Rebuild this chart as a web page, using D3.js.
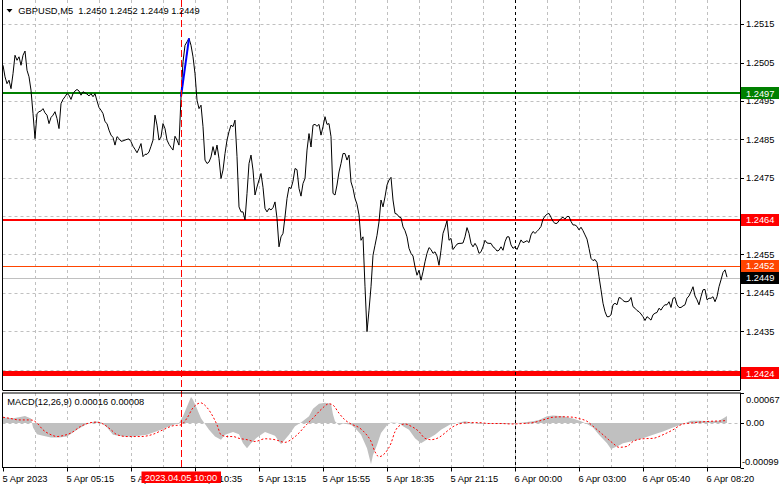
<!DOCTYPE html>
<html><head><meta charset="utf-8">
<script src="https://cdn.jsdelivr.net/npm/d3@7"></script>
<style>
body{margin:0;background:#fff}
svg{display:block}
text{font-family:"Liberation Sans",Arial,sans-serif;font-size:9.3px}
</style>
</head><body>
<script>
// ---- DATA ----
const symbol = "GBPUSD,M5";
const ohlc = [1.2450, 1.2452, 1.2449, 1.2449];
// 5-minute closes, one per bar, starting 5 Apr 2023 02:35
const closes = [
1.25043,1.25013,1.24995,1.25004,1.24982,1.25021,1.25069,1.25056,1.25065,1.25043,1.25069,1.25080,1.25030,1.25013,1.24978,1.24917,1.24852,
1.24917,1.24922,1.24924,1.24930,1.24919,1.24913,1.24891,1.24907,1.24913,1.24922,1.24904,1.24878,
1.24943,1.24954,1.24961,1.24969,1.24965,1.24954,1.24969,1.24976,1.24980,1.24976,1.24965,1.24974,
1.24971,1.24968,1.24963,1.24969,1.24961,1.24969,1.24950,1.24933,1.24926,1.24917,1.24896,1.24891,
1.24874,1.24861,1.24855,1.24835,1.24857,1.24852,1.24845,1.24846,1.24848,1.24850,1.24851,1.24844,
1.24832,1.24824,1.24815,1.24826,1.24839,1.24805,1.24811,1.24811,1.24817,1.24832,1.24848,1.24913,
1.24887,1.24848,1.24856,1.24891,1.24878,1.24848,1.24837,1.24829,1.24822,1.24858,1.24848,1.24835,
1.24961,1.25052,1.25095,1.25104,1.25113,1.25095,1.25065,1.25021,1.24952,1.24930,1.24939,1.24883,
1.24796,1.24787,1.24791,1.24804,1.24831,1.24809,1.24835,1.24800,1.24748,1.24770,1.24813,1.24848,
1.24870,1.24887,1.24883,1.24900,1.24805,1.24674,1.24661,1.24661,1.24640,1.24709,1.24787,1.24809,
1.24770,1.24705,1.24726,1.24744,
1.24761,1.24725,1.24670,1.24661,1.24670,1.24666,1.24672,1.24687,1.24644,1.24570,1.24596,1.24605,
1.24648,1.24696,1.24725,1.24722,1.24741,1.24774,1.24771,1.24722,1.24702,1.24735,1.24748,1.24822,
1.24865,1.24830,1.24887,1.24889,1.24884,1.24889,1.24861,1.24883,1.24909,1.24889,1.24891,1.24857,
1.24709,1.24705,1.24731,1.24765,1.24787,1.24813,1.24813,1.24796,1.24809,1.24739,1.24722,1.24696,
1.24681,1.24653,1.24587,1.24596,1.24466,1.24349,1.24405,1.24466,1.24548,1.24574,1.24600,1.24635,
1.24692,1.24674,1.24700,1.24731,1.24744,1.24751,1.24692,1.24657,1.24655,1.24648,1.24646,1.24622,
1.24612,1.24596,1.24566,1.24553,1.24546,1.24518,1.24496,1.24509,1.24483,1.24505,1.24531,1.24553,
1.24568,1.24563,1.24553,1.24557,1.24546,1.24522,1.24561,1.24605,1.24620,1.24638,1.24587,1.24592,
1.24563,1.24570,1.24577,1.24579,1.24579,1.24580,1.24596,1.24620,1.24605,1.24579,1.24570,1.24579,
1.24570,1.24553,1.24557,1.24570,1.24587,1.24580,1.24579,1.24579,1.24570,1.24566,1.24559,1.24561,
1.24570,1.24561,1.24583,1.24596,1.24596,
1.24575,1.24566,1.24570,1.24563,1.24575,1.24588,1.24581,1.24583,1.24586,1.24581,1.24601,1.24610,
1.24605,1.24610,1.24616,1.24623,1.24642,1.24650,1.24655,1.24657,1.24647,1.24636,1.24631,1.24631,
1.24638,1.24644,1.24647,1.24642,1.24649,1.24649,1.24636,1.24627,1.24627,1.24623,1.24614,1.24621,
1.24612,1.24601,1.24590,1.24566,1.24540,1.24534,1.24537,1.24529,1.24492,1.24458,1.24423,1.24401,
1.24388,1.24388,1.24393,1.24419,1.24423,1.24419,1.24438,1.24436,1.24430,1.24427,1.24427,1.24429,
1.24438,1.24414,1.24410,1.24404,1.24401,1.24395,1.24388,1.24378,1.24388,1.24384,1.24379,1.24393,
1.24397,1.24399,1.24410,1.24405,1.24414,1.24419,1.24419,1.24427,1.24412,1.24436,1.24438,1.24419,
1.24412,1.24412,1.24416,1.24419,1.24436,1.24442,1.24453,1.24466,1.24442,1.24432,1.24419,1.24440,
1.24458,1.24459,1.24432,1.24436,1.24436,1.24440,1.24427,1.24440,1.24466,1.24484,1.24503,1.24510,1.24491
];
// grid levels; labels are shown only where the reference shows them
const priceTicks = [1.2515,1.2505,1.2495,1.2485,1.2475,1.2465,1.2455,1.2445,1.2435,1.2425];
const priceTickLabels = ["1.2515","1.2505","1.2495","1.2485","1.2475","","1.2455","1.2445","1.2435",""];
const timeLabels = ["5 Apr 2023","5 Apr 05:15","5 Apr 07:55","5 Apr 10:35","5 Apr 13:15","5 Apr 15:55",
  "5 Apr 18:35","5 Apr 21:15","6 Apr 00:00","6 Apr 03:00","6 Apr 05:40","6 Apr 08:20"];
const levelValues = [1.2497, 1.2464, 1.2452, 1.2424];
const levelColors = ["#008000", "#ff0000", "#ff4500", "#ff0000"];
const levelWidths = [2, 2, 1, 5];
const bidPrice = 1.2449;
const trendBars = [89, 93];
const trendPrices = [1.24961, 1.25113];
const markerBar = 89, markerText = "2023.04.05 10:00";
const separatorBar = 256;
// MACD(12,26,9) main (histogram) and signal, sampled bars
const macdBars = [0,5,8,11,14,15,17,20,24,28,32,37,42,46,49,52,55,60,65,72,79,84,88,90,92,94,95,97,99,101,103,106,109,111,115,118,120,122,124,127,131,136,139,143,146,149,153,155,158,161,164,165,166,168,170,174,176,179,182,184,185,187,189,192,194,198,200,203,206,209,213,216,219,222,224,228,231,234,239,244,249,254,260,265,268,272,275,280,285,289,292,295,298,302,304,307,310,315,320,325,330,335,340,344,348,354,358,360,362];
const macdMain = [0.00013,0.00011,0.00013,0.00016,0.00010,-0.00010,-0.00025,-0.00028,-0.00032,-0.00032,-0.00030,-0.00015,-0.00002,0.00004,0.00002,-0.00010,-0.00026,-0.00030,-0.00030,-0.00026,-0.00015,-0.00006,0.00000,0.00015,0.00037,0.00058,0.00052,0.00032,0.00011,-0.00002,-0.00015,-0.00030,-0.00037,-0.00026,-0.00020,-0.00025,-0.00045,-0.00056,-0.00045,-0.00032,-0.00020,-0.00028,-0.00047,-0.00026,-0.00007,0.00001,0.00015,0.00032,0.00043,0.00045,0.00043,0.00019,0.00004,-0.00005,-0.00001,-0.00004,-0.00011,-0.00026,-0.00056,-0.00092,-0.00071,-0.00049,-0.00022,-0.00005,0.00001,0.00000,-0.00007,-0.00015,-0.00034,-0.00045,-0.00034,-0.00026,-0.00015,-0.00007,-0.00002,0.00001,0.00004,0.00001,-0.00002,0.00000,-0.00002,-0.00001,0.00001,0.00004,0.00007,0.00015,0.00017,0.00015,0.00010,0.00004,-0.00002,-0.00010,-0.00026,-0.00045,-0.00058,-0.00052,-0.00045,-0.00040,-0.00034,-0.00026,-0.00019,-0.00010,-0.00002,0.00005,0.00005,0.00004,0.00005,0.00010,0.00016];
const signalBars = [0,4,8,14,17,20,24,27,30,34,39,44,47,50,54,57,62,69,75,80,85,89,92,95,99,100,104,107,109,112,115,118,122,126,131,136,141,144,148,151,155,159,163,165,168,171,174,178,181,184,186,188,191,194,196,199,201,204,208,211,214,218,221,224,228,233,238,243,249,254,260,265,270,275,280,285,288,292,295,300,305,308,312,315,320,325,330,335,340,344,348,354,360,362];
const signalVals = [0.00013,0.00010,0.00007,0.00007,0.00000,-0.00015,-0.00026,-0.00030,-0.00028,-0.00022,-0.00007,0.00001,0.00002,-0.00002,-0.00015,-0.00026,-0.00030,-0.00030,-0.00025,-0.00015,-0.00006,-0.00004,0.00011,0.00034,0.00045,0.00043,0.00022,-0.00004,-0.00026,-0.00030,-0.00030,-0.00034,-0.00037,-0.00041,-0.00035,-0.00037,-0.00043,-0.00037,-0.00022,-0.00007,0.00011,0.00030,0.00043,0.00040,0.00022,0.00007,-0.00002,-0.00010,-0.00022,-0.00041,-0.00064,-0.00075,-0.00067,-0.00045,-0.00019,-0.00004,-0.00002,-0.00007,-0.00019,-0.00034,-0.00037,-0.00032,-0.00022,-0.00011,-0.00002,0.00001,0.00001,-0.00001,-0.00001,-0.00002,-0.00001,0.00001,0.00007,0.00013,0.00014,0.00013,0.00010,0.00004,-0.00007,-0.00026,-0.00045,-0.00054,-0.00052,-0.00041,-0.00035,-0.00034,-0.00026,-0.00015,-0.00002,0.00000,0.00002,0.00004,0.00005,0.00006];
const macdLabel = "MACD(12,26,9) 0.00016 0.00008";
const macdAxis = [0.00067, 0.00, -0.00099];
const macdAxisText = ["0.00067", "0.00", "-0.00099"];

// ---- LAYOUT ----
const W = 781, H = 489;
const L = 2.5, R = 740.5, mainTop = 0, mainBot = 390, mTop = 393, mBot = 467.5;
const barsPerGrid = 16, barsPerLabel = 32;

const svg = d3.select("body").append("svg").attr("width", W).attr("height", H);
const x = d3.scaleLinear().domain([0, 368.75]).range([3, R]);
const y = d3.scaleLinear().domain([1.24197, 1.25213]).range([mainBot, mainTop]);
const ym = d3.scaleLinear().domain([-0.00099, 0.00067]).range([mBot, mTop]);

const defs = svg.append("defs");
defs.append("clipPath").attr("id","cm").append("rect").attr("x",L).attr("y",mainTop).attr("width",R-L).attr("height",mainBot-mainTop);
defs.append("clipPath").attr("id","cd").append("rect").attr("x",L).attr("y",mTop).attr("width",R-L).attr("height",mBot-mTop);

const gridC = "#c0c0c0";
// vertical grid
const gridBars = d3.range(barsPerGrid, 360, barsPerGrid);
[[mainTop, mainBot],[mTop, mBot]].forEach(([t,b]) => {
  svg.append("g").selectAll("line").data(gridBars).join("line")
    .attr("x1", d => Math.round(x(d)) + 0.5).attr("x2", d => Math.round(x(d)) + 0.5)
    .attr("y1", t).attr("y2", b)
    .attr("stroke", gridC).attr("stroke-dasharray", "3,3");
});
// horizontal grid (main)
svg.append("g").selectAll("line").data(priceTicks).join("line")
  .attr("x1", L).attr("x2", R)
  .attr("y1", d => Math.round(y(d)) + 0.5).attr("y2", d => Math.round(y(d)) + 0.5)
  .attr("stroke", gridC).attr("stroke-dasharray", "3,3");
// MACD zero level
svg.append("line").attr("x1", L).attr("x2", R)
  .attr("y1", Math.round(ym(0)) + 0.5).attr("y2", Math.round(ym(0)) + 0.5)
  .attr("stroke", gridC).attr("stroke-dasharray", "3,3");

// MACD histogram + signal
const gm = svg.append("g").attr("clip-path", "url(#cd)");
const histData = macdBars.map((b, i) => [b, macdMain[i]]);
gm.append("path").datum(histData)
  .attr("d", d3.area().x(d => x(d[0])).y0(ym(0)).y1(d => ym(d[1])))
  .attr("fill", "#c0c0c0");
const sigData = signalBars.map((b, i) => [b, signalVals[i]]);
gm.append("path").datum(sigData)
  .attr("d", d3.line().x(d => x(d[0])).y(d => ym(d[1])).curve(d3.curveMonotoneX))
  .attr("fill", "none").attr("stroke", "#ff0000").attr("stroke-width", 1)
  .attr("stroke-dasharray", "2,2");

// main panel objects
const gp = svg.append("g").attr("clip-path", "url(#cm)");
// bid line
gp.append("line").attr("x1", L).attr("x2", R)
  .attr("y1", Math.round(y(bidPrice)) + 0.5).attr("y2", Math.round(y(bidPrice)) + 0.5)
  .attr("stroke", "#c0c0c0");
// horizontal levels
levelValues.forEach((v, i) => {
  const yy = levelWidths[i] % 2 ? Math.round(y(v)) + 0.5 : Math.round(y(v));
  gp.append("line").attr("x1", L).attr("x2", R).attr("y1", yy).attr("y2", yy)
    .attr("stroke", levelColors[i]).attr("stroke-width", levelWidths[i]);
});
// vertical lines
svg.append("line").attr("x1", Math.round(x(separatorBar)) + 0.5).attr("x2", Math.round(x(separatorBar)) + 0.5)
  .attr("y1", mainTop).attr("y2", mBot).attr("stroke", "#000").attr("stroke-dasharray", "3,3");
svg.append("line").attr("x1", Math.round(x(markerBar)) + 0.5).attr("x2", Math.round(x(markerBar)) + 0.5)
  .attr("y1", mainTop).attr("y2", mBot).attr("stroke", "#ff0000").attr("stroke-dasharray", "7,3");

// price line
gp.append("path").datum(closes)
  .attr("d", d3.line().x((d, i) => x(i)).y(d => y(d)))
  .attr("fill", "none").attr("stroke", "#000").attr("stroke-width", 1);
// trend line
gp.append("path").datum(trendBars.map((b, i) => [b, trendPrices[i]]))
  .attr("d", d3.line().x(d => x(d[0])).y(d => y(d[1])))
  .attr("fill", "none").attr("stroke", "#0000ff").attr("stroke-width", 2);

// borders
const border = svg.append("g").attr("stroke", "#000").attr("fill", "none");
border.append("line").attr("x1", L).attr("x2", L).attr("y1", mainTop).attr("y2", mainBot);
border.append("line").attr("x1", R).attr("x2", R).attr("y1", mainTop).attr("y2", mainBot);
border.append("line").attr("x1", L).attr("x2", R).attr("y1", mainBot + 0.5).attr("y2", mainBot + 0.5);
border.append("rect").attr("x", L).attr("y", mTop).attr("width", R - L).attr("height", mBot - mTop);

// price axis ticks & labels
const pa = svg.append("g");
pa.selectAll("line").data(priceTicks).join("line")
  .attr("x1", R).attr("x2", R + 3.5)
  .attr("y1", d => Math.round(y(d)) + 0.5).attr("y2", d => Math.round(y(d)) + 0.5)
  .attr("stroke", "#000");
pa.selectAll("text").data(priceTicks.filter((d, i) => priceTickLabels[i])).join("text")
  .attr("x", 746).attr("y", d => y(d)).attr("dy", "0.35em")
  .attr("fill", "#000").text(d => d.toFixed(4));

// level + bid boxes
const boxes = [
  {v: bidPrice, c: "#000000"},
  ...levelValues.map((v, i) => ({v, c: levelColors[i]}))
];
boxes.forEach(b => {
  const yy = y(b.v);
  svg.append("rect").attr("x", 741).attr("y", Math.round(yy) - 6).attr("width", 38).attr("height", 12).attr("fill", b.c);
  svg.append("text").attr("x", 746).attr("y", yy).attr("dy", "0.35em").attr("fill", "#fff").text(b.v.toFixed(4));
});

// MACD axis
macdAxis.forEach((v, i) => {
  const yy = Math.round(ym(v)) + 0.5;
  svg.append("line").attr("x1", R).attr("x2", R + 3.5).attr("y1", yy).attr("y2", yy).attr("stroke", "#000");
  const ty = i === 0 ? ym(v) + 7 : (i === 2 ? ym(v) - 5.5 : ym(v));
  svg.append("text").attr("x", i === 2 ? 742 : 746).attr("y", ty).attr("dy", "0.35em").attr("fill", "#000").text(macdAxisText[i]);
});

// time axis
const labelBars = timeLabels.map((t, i) => i * barsPerLabel);
const ta = svg.append("g");
ta.selectAll("line").data(labelBars).join("line")
  .attr("x1", d => Math.round(x(d)) + 0.5).attr("x2", d => Math.round(x(d)) + 0.5)
  .attr("y1", mBot).attr("y2", mBot + 4).attr("stroke", "#000");
ta.selectAll("text").data(timeLabels).join("text")
  .attr("x", (d, i) => x(labelBars[i]) - 0.5).attr("y", 481.5)
  .attr("fill", "#000").text(d => d);

// marker time box
const mx = x(markerBar);
svg.append("rect").attr("x", Math.round(mx) - 39.5).attr("y", 471.5).attr("width", 79.5).attr("height", 11.5).attr("fill", "#ff0000");
svg.append("text").attr("x", mx).attr("y", 481).attr("text-anchor", "middle").attr("fill", "#fff").text(markerText);

// header
svg.append("path").attr("d", "M6.5,9 L12.5,9 L9.5,12.5 Z").attr("fill", "#000");
svg.append("text").attr("x", 18.3).attr("y", 13.5).attr("fill", "#000").attr("xml:space", "preserve")
  .text(symbol + "  " + ohlc.map(v => v.toFixed(4)).join(" "));
svg.append("text").attr("x", 7.3).attr("y", 405).attr("fill", "#000").text(macdLabel);
</script>
</body></html>
